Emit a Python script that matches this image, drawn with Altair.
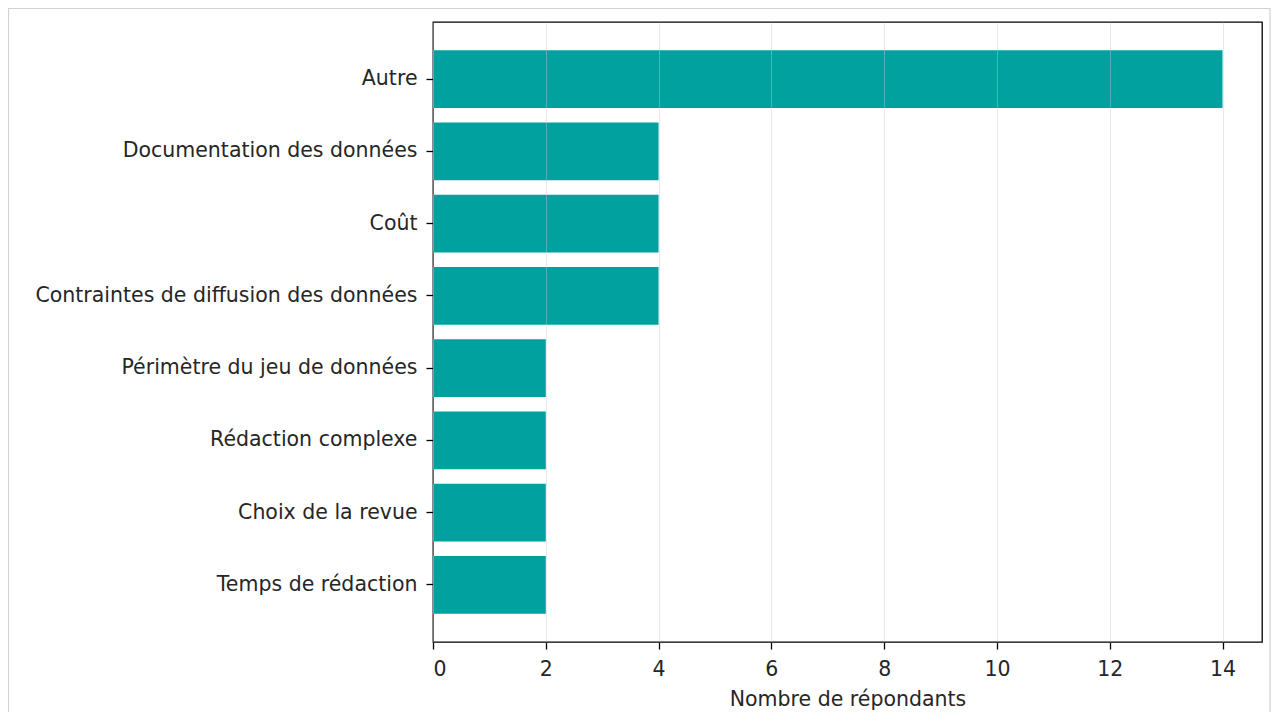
import altair as alt
import pandas as pd

categories = [
    "Autre",
    "Documentation des données",
    "Coût",
    "Contraintes de diffusion des données",
    "Périmètre du jeu de données",
    "Rédaction complexe",
    "Choix de la revue",
    "Temps de rédaction",
]
values = [14, 4, 4, 4, 2, 2, 2, 2]
x_ticks = [0, 2, 4, 6, 8, 10, 12, 14]

df = pd.DataFrame({"categorie": categories, "n": values})

FONT = "DejaVu Sans"
TXT = "#262626"
FS = 20.5

bars = alt.Chart(df).mark_bar(color="#00a19f").encode(
    x=alt.X(
        "n:Q",
        scale=alt.Scale(domain=[0, 14.7], nice=False, zero=True),
        axis=alt.Axis(
            values=x_ticks,
            title="Nombre de répondants",
            grid=True,
            gridColor="#c8c8c8",
            gridOpacity=0.4,
            gridWidth=1,
            zindex=1,
            domain=False,
            tickColor="black",
            tickSize=7,
            tickWidth=1.3,
            labelFontSize=FS,
            labelColor=TXT,
            labelPadding=10,
            titleFontSize=FS,
            titleFontWeight="normal",
            titleColor=TXT,
            titlePadding=10,
            labelFont=FONT,
            titleFont=FONT,
        ),
    ),
    y=alt.Y(
        "categorie:N",
        sort=categories,
        scale=alt.Scale(paddingInner=0.2, paddingOuter=0.39),
        axis=alt.Axis(
            title=None,
            domain=False,
            grid=False,
            tickColor="black",
            tickSize=7,
            tickWidth=1.3,
            labelFontSize=FS,
            labelColor=TXT,
            labelPadding=9,
            labelFont=FONT,
            labelLimit=600,
        ),
    ),
)

frame = alt.Chart(pd.DataFrame({"k": [0]})).mark_rect(
    fillOpacity=0, stroke="#d2d2d2", strokeWidth=1.2
).encode(
    x=alt.value(-424.5),
    x2=alt.value(837),
    y=alt.value(-13.5),
    y2=alt.value(760),
)

chart = (
    alt.layer(frame, bars)
    .properties(
        width=829,
        height=620,
        autosize=alt.AutoSizeParams(type="none"),
        padding={"left": 425, "top": 14, "right": 9, "bottom": 70},
        background="white",
    )
    .configure_view(stroke="black", strokeWidth=1.3)
)

chart.save("out.html", embed_options={"renderer": "svg", "actions": False})
